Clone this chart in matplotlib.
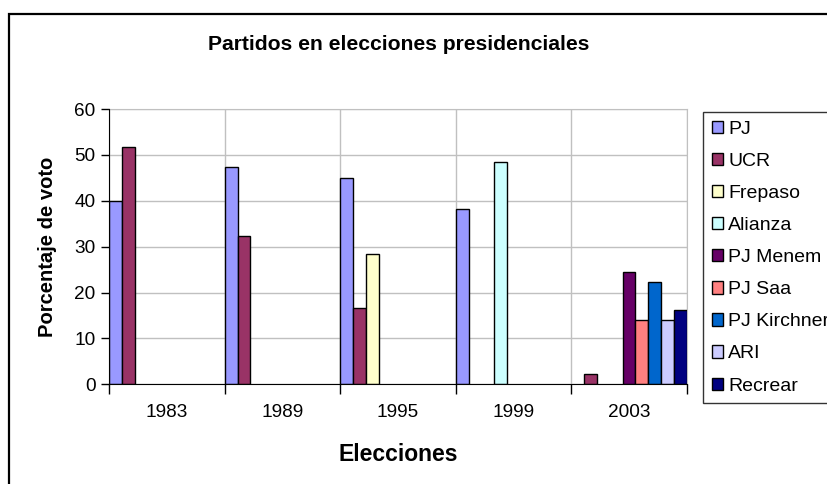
import numpy as np
import matplotlib.pyplot as plt
from matplotlib.patches import Patch, Rectangle

years = ['1983', '1989', '1995', '1999', '2003']
parties = ['PJ', 'UCR', 'Frepaso', 'Alianza', 'PJ Menem', 'PJ Saa',
           'PJ Kirchner', 'ARI', 'Recrear']
colors = ['#9999FF', '#993366', '#FFFFCC', '#CCFFFF', '#660066', '#FF8080',
          '#0066CC', '#CCCCFF', '#000080']

nan = np.nan
pj = [40.0, 47.3, 45.0, 38.3, nan]
ucr = [51.7, 32.4, 16.6, nan, 2.3]
frepaso = [nan, nan, 28.3, nan, nan]
alianza = [nan, nan, nan, 48.4, nan]
pj_menem = [nan, nan, nan, nan, 24.4]
pj_saa = [nan, nan, nan, nan, 14.1]
pj_kirchner = [nan, nan, nan, nan, 22.3]
ari = [nan, nan, nan, nan, 14.0]
recrear = [nan, nan, nan, nan, 16.3]
series = [pj, ucr, frepaso, alianza, pj_menem, pj_saa, pj_kirchner, ari, recrear]

plt.rcParams['font.family'] = ['Liberation Sans', 'DejaVu Sans']

W, H = 827, 484
fig = plt.figure(figsize=(W / 100, H / 100), dpi=100)

# outer chart border (right and bottom fall off the image)
fig.patches.append(Rectangle((9 / W, -0.1), 1.0, 1 - 14 / H + 0.1,
                             transform=fig.transFigure, fill=False,
                             edgecolor='black', linewidth=1.6))

l, r, t, b = 109.3, 686.7, 109.0, 384.3
ax = fig.add_axes([l / W, 1 - b / H, (r - l) / W, (b - t) / H])

n = len(parties)
bw = 1.0 / n
x = np.arange(len(years))
for j, (vals, c) in enumerate(zip(series, colors)):
    ax.bar(x - 0.5 + (j + 0.5) * bw, vals, width=bw, color=c,
           edgecolor='black', linewidth=1.0, zorder=3)

ax.set_xlim(-0.5, len(years) - 0.5)
ax.set_ylim(0, 60)
ax.set_yticks(range(0, 61, 10))
ax.set_xticks(x)
ax.set_xticklabels(years)
ax.set_xticks(np.arange(-0.5, len(years)), minor=True)
ax.tick_params(axis='x', which='major', length=0, pad=14, labelsize=13.7)
ax.tick_params(axis='x', which='minor', length=7, width=1, direction='out')
ax.tick_params(axis='y', length=6, width=1, direction='out', labelsize=13.7, pad=4)
ax.grid(True, which='minor', axis='x', color='#C0C0C0', linewidth=1, zorder=0)
ax.grid(True, which='major', axis='y', color='#C0C0C0', linewidth=1, zorder=0)
for s in ['top', 'right']:
    ax.spines[s].set_color('#C0C0C0')
for s in ['left', 'bottom']:
    ax.spines[s].set_color('black')
    ax.spines[s].set_zorder(4)

ax.set_ylabel('Porcentaje de voto', fontsize=14.5, fontweight='bold', labelpad=12)
ax.set_xlabel('Elecciones', fontsize=16.5, fontweight='bold', labelpad=16)
fig.text(399 / W, 1 - 45 / H, 'Partidos en elecciones presidenciales',
         ha='center', va='center', fontsize=15.2, fontweight='bold')

handles = [Patch(facecolor=c, edgecolor='black', linewidth=1) for c in colors]
leg = fig.legend(handles, parties, loc='upper left',
                 bbox_to_anchor=(703 / W, 1 - 112 / H), fontsize=14,
                 frameon=True, fancybox=False, handlelength=0.6,
                 handleheight=0.6, handletextpad=0.25, labelspacing=0.775,
                 borderpad=0.45, borderaxespad=0)
leg.get_frame().set_edgecolor('black')
leg.get_frame().set_linewidth(1)

fig.savefig('out.png', dpi=100)
